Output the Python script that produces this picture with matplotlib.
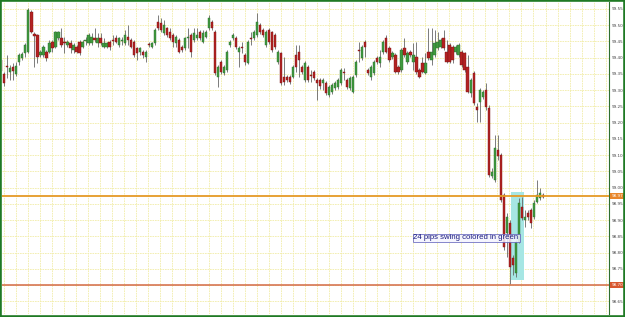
import numpy as np
import matplotlib
matplotlib.use("Agg")
import matplotlib.pyplot as plt
from matplotlib.patches import Rectangle

# USD/JPY style candles (oldest first)
opens = [99.392, 99.349, 99.374, 99.355, 99.371, 99.349, 99.386, 99.399, 99.414, 99.417,
         99.540, 99.472, 99.469, 99.408, 99.408, 99.417, 99.417, 99.448, 99.432, 99.460,
         99.460, 99.448, 99.439, 99.445, 99.423, 99.432, 99.448, 99.432, 99.451, 99.445,
         99.445, 99.460, 99.445, 99.460, 99.432, 99.432, 99.448, 99.454, 99.460, 99.439,
         99.451, 99.445, 99.463, 99.454, 99.448, 99.429, 99.417, 99.417, 99.402, 99.442,
         99.432, 99.445, 99.509, 99.506, 99.475, 99.491, 99.479, 99.469, 99.445, 99.454,
         99.432, 99.429, 99.460, 99.469, 99.454, 99.460, 99.479, 99.448, 99.463, 99.491,
         99.509, 99.479, 99.340, 99.386, 99.352, 99.362, 99.439, 99.460, 99.460, 99.417,
         99.432, 99.408, 99.383, 99.460, 99.460, 99.469, 99.500, 99.485, 99.439, 99.485,
         99.479, 99.469, 99.386, 99.414, 99.340, 99.340, 99.340, 99.340, 99.408, 99.417,
         99.371, 99.331, 99.371, 99.346, 99.355, 99.331, 99.331, 99.322, 99.322, 99.285,
         99.294, 99.306, 99.309, 99.322, 99.355, 99.331, 99.306, 99.294, 99.346, 99.423,
         99.399, 99.448, 99.362, 99.340, 99.352, 99.399, 99.383, 99.417, 99.460, 99.429,
         99.402, 99.408, 99.371, 99.362, 99.429, 99.386, 99.417, 99.386, 99.402, 99.362,
         99.383, 99.352, 99.417, 99.392, 99.408, 99.429, 99.432, 99.460, 99.417, 99.439,
         99.432, 99.417, 99.408, 99.417, 99.414, 99.371, 99.291, 99.352, 99.248, 99.263,
         99.279, 99.300, 99.245, 99.035, 99.023, 99.115, 99.100, 98.977, 98.860, 98.891,
         98.783, 98.737, 98.832, 98.940, 98.900, 98.922, 98.931, 98.909, 98.955, 98.968,
         98.977]
highs = [99.402, 99.355, 99.408, 99.377, 99.383, 99.386, 99.414, 99.417, 99.445, 99.552,
         99.546, 99.479, 99.472, 99.423, 99.439, 99.423, 99.454, 99.454, 99.482, 99.482,
         99.491, 99.463, 99.454, 99.454, 99.445, 99.439, 99.454, 99.454, 99.463, 99.475,
         99.475, 99.491, 99.475, 99.475, 99.460, 99.448, 99.454, 99.469, 99.469, 99.463,
         99.463, 99.485, 99.500, 99.460, 99.454, 99.432, 99.432, 99.423, 99.423, 99.448,
         99.448, 99.491, 99.531, 99.522, 99.515, 99.494, 99.491, 99.475, 99.469, 99.460,
         99.439, 99.463, 99.491, 99.475, 99.491, 99.491, 99.485, 99.485, 99.485, 99.531,
         99.515, 99.485, 99.377, 99.392, 99.377, 99.423, 99.454, 99.475, 99.466, 99.435,
         99.448, 99.414, 99.454, 99.479, 99.485, 99.537, 99.506, 99.491, 99.485, 99.491,
         99.482, 99.475, 99.423, 99.417, 99.402, 99.346, 99.346, 99.377, 99.439, 99.439,
         99.377, 99.389, 99.377, 99.362, 99.362, 99.337, 99.337, 99.337, 99.328, 99.315,
         99.322, 99.328, 99.337, 99.368, 99.368, 99.337, 99.343, 99.346, 99.392, 99.448,
         99.439, 99.454, 99.368, 99.377, 99.392, 99.405, 99.423, 99.454, 99.469, 99.435,
         99.420, 99.414, 99.377, 99.429, 99.460, 99.420, 99.423, 99.445, 99.448, 99.368,
         99.402, 99.414, 99.491, 99.491, 99.485, 99.479, 99.460, 99.485, 99.454, 99.445,
         99.439, 99.439, 99.445, 99.423, 99.417, 99.408, 99.337, 99.359, 99.260, 99.306,
         99.300, 99.322, 99.254, 99.060, 99.162, 99.162, 99.106, 98.983, 98.922, 98.900,
         98.792, 98.839, 98.968, 98.971, 98.931, 98.931, 98.937, 98.962, 99.023, 98.999,
         98.983]
lows = [99.343, 99.312, 99.337, 99.331, 99.331, 99.343, 99.377, 99.392, 99.402, 99.414,
        99.475, 99.371, 99.383, 99.402, 99.402, 99.389, 99.414, 99.417, 99.429, 99.454,
        99.432, 99.414, 99.432, 99.414, 99.414, 99.414, 99.408, 99.429, 99.439, 99.439,
        99.439, 99.448, 99.432, 99.439, 99.429, 99.429, 99.423, 99.439, 99.445, 99.432,
        99.439, 99.439, 99.439, 99.429, 99.402, 99.392, 99.408, 99.399, 99.386, 99.432,
        99.429, 99.439, 99.485, 99.479, 99.469, 99.463, 99.454, 99.432, 99.432, 99.414,
        99.417, 99.423, 99.429, 99.402, 99.448, 99.454, 99.454, 99.445, 99.460, 99.485,
        99.485, 99.346, 99.309, 99.349, 99.346, 99.355, 99.432, 99.454, 99.426, 99.371,
        99.414, 99.377, 99.380, 99.439, 99.454, 99.463, 99.472, 99.463, 99.432, 99.442,
        99.417, 99.426, 99.380, 99.315, 99.315, 99.325, 99.319, 99.337, 99.355, 99.340,
        99.349, 99.325, 99.325, 99.325, 99.331, 99.269, 99.303, 99.300, 99.285, 99.279,
        99.288, 99.300, 99.303, 99.315, 99.331, 99.303, 99.300, 99.291, 99.340, 99.386,
        99.392, 99.402, 99.346, 99.331, 99.346, 99.380, 99.371, 99.411, 99.414, 99.386,
        99.395, 99.352, 99.349, 99.355, 99.402, 99.380, 99.402, 99.362, 99.349, 99.337,
        99.352, 99.349, 99.392, 99.377, 99.402, 99.423, 99.429, 99.423, 99.383, 99.383,
        99.383, 99.411, 99.402, 99.371, 99.355, 99.291, 99.279, 99.254, 99.202, 99.202,
        99.272, 99.238, 99.032, 99.029, 99.017, 99.085, 98.955, 98.808, 98.786, 98.703,
        98.731, 98.725, 98.829, 98.900, 98.879, 98.900, 98.875, 98.903, 98.952, 98.962,
        98.968]
closes = [99.359, 99.322, 99.371, 99.368, 99.359, 99.374, 99.408, 99.411, 99.439, 99.548,
          99.479, 99.466, 99.402, 99.417, 99.432, 99.399, 99.445, 99.429, 99.479, 99.479,
          99.439, 99.445, 99.448, 99.429, 99.439, 99.417, 99.414, 99.448, 99.454, 99.469,
          99.463, 99.454, 99.460, 99.445, 99.445, 99.445, 99.432, 99.451, 99.448, 99.460,
          99.454, 99.469, 99.454, 99.432, 99.408, 99.414, 99.429, 99.408, 99.417, 99.439,
          99.445, 99.485, 99.491, 99.485, 99.500, 99.469, 99.460, 99.448, 99.463, 99.417,
          99.423, 99.460, 99.463, 99.417, 99.475, 99.469, 99.460, 99.475, 99.479, 99.522,
          99.491, 99.352, 99.371, 99.355, 99.371, 99.417, 99.448, 99.469, 99.432, 99.429,
          99.429, 99.386, 99.448, 99.457, 99.479, 99.509, 99.479, 99.469, 99.479, 99.448,
          99.423, 99.432, 99.417, 99.322, 99.325, 99.331, 99.325, 99.371, 99.371, 99.392,
          99.355, 99.383, 99.331, 99.343, 99.337, 99.322, 99.312, 99.331, 99.291, 99.309,
          99.315, 99.322, 99.331, 99.362, 99.352, 99.309, 99.337, 99.340, 99.386, 99.420,
          99.432, 99.432, 99.352, 99.371, 99.386, 99.386, 99.402, 99.448, 99.417, 99.392,
          99.414, 99.355, 99.355, 99.423, 99.408, 99.414, 99.408, 99.408, 99.355, 99.340,
          99.355, 99.383, 99.399, 99.417, 99.445, 99.448, 99.454, 99.429, 99.386, 99.386,
          99.392, 99.432, 99.439, 99.377, 99.362, 99.294, 99.331, 99.260, 99.238, 99.300,
          99.294, 99.248, 99.039, 99.048, 99.122, 99.097, 98.962, 98.817, 98.909, 98.755,
          98.762, 98.832, 98.952, 98.906, 98.909, 98.909, 98.891, 98.952, 98.977, 98.983,
          98.971]

price_labels = ["98.65", "98.70", "98.75", "98.80", "98.85", "98.90", "98.95", "99.00",
                "99.05", "99.10", "99.15", "99.20", "99.25", "99.30", "99.35", "99.40",
                "99.45", "99.50", "99.55"]
upper_level = 98.974
lower_level = 98.700
swing_first, swing_last = 170, 173
swing_top, swing_bottom = 98.986, 98.715
note_text = "24 pips swing colored in green"

fig = plt.figure(figsize=(6.25, 3.17), dpi=100)
ax = fig.add_axes([0.0032, 0.0095, 0.9712, 0.984])

o = np.array(opens)
h = np.array(highs)
l = np.array(lows)
c = np.array(closes)
x = np.arange(len(o))
up = c >= o

# swing highlight behind the candles
ax.add_patch(Rectangle((swing_first - 0.6, swing_bottom), swing_last - swing_first + 1.2,
                       swing_top - swing_bottom, facecolor="#a6e6e4", edgecolor="none", zorder=1))

ax.vlines(x, np.minimum(l, np.minimum(o, c)), np.maximum(h, np.maximum(o, c)),
          color="#666666", linewidth=0.6, zorder=2)
body_low = np.minimum(o, c)
body_h = np.maximum(np.abs(c - o), 0.0015)
ax.bar(x[up], body_h[up], bottom=body_low[up], width=0.74, color="#3f9a3f",
       edgecolor="#2c6e2c", linewidth=0.3, zorder=3)
ax.bar(x[~up], body_h[~up], bottom=body_low[~up], width=0.74, color="#b32222",
       edgecolor="#7a1414", linewidth=0.3, zorder=3)

ax.axhline(upper_level, color="#e59a25", linewidth=1.3, zorder=4)
ax.axhline(lower_level, color="#d36a45", linewidth=1.1, zorder=4)

ax.text(137.0, 98.845, note_text, fontsize=5.6, family="Liberation Sans", color="#1a1a80",
        va="center", ha="left", zorder=6,
        bbox=dict(boxstyle="square,pad=0.12", facecolor="#f4f4ff", edgecolor="#5a5ab8",
                  linewidth=0.6, alpha=0.85))

ax.set_xlim(0.23, 202.0)
ax.set_ylim(98.611, 99.571)
ax.set_xticks(np.arange(0.9, 202, 4))
ax.set_xticklabels([])
ticks = [float(s) for s in price_labels]
ax.set_yticks(ticks)
ax.set_yticklabels(price_labels)
ax.yaxis.tick_right()
ax.tick_params(axis="y", length=0, labelsize=3, colors="#444444", pad=2)
ax.tick_params(axis="x", length=0)
ax.grid(True, color="#f1eda8", linestyle=(0, (2, 1)), linewidth=0.6, zorder=0)
ax.set_axisbelow(True)

for side in ["left", "top", "bottom"]:
    ax.spines[side].set_visible(False)
ax.spines["right"].set_color("#2f6f2f")
ax.spines["right"].set_linewidth(0.8)

# level tags on the price axis
for lvl, col, txt in [(upper_level, "#e8862a", "98.97"), (lower_level, "#d8572f", "98.70")]:
    ax.text(1.004, lvl, txt, transform=ax.get_yaxis_transform(), fontsize=3, color="white",
            va="center", ha="left", zorder=7,
            bbox=dict(boxstyle="square,pad=0.25", facecolor=col, edgecolor="none"))

fig.patches.append(Rectangle((0, 0), 1, 1, transform=fig.transFigure, fill=False,
                             edgecolor="#1f7a24", linewidth=2.6, zorder=10))

fig.savefig("out.png", dpi=100, facecolor="white")
